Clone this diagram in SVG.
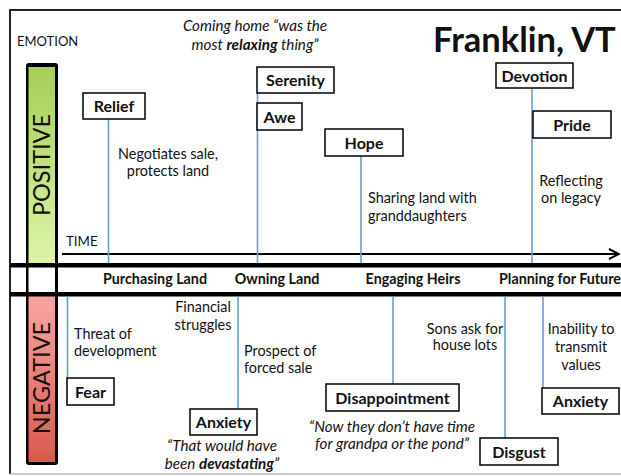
<svg xmlns="http://www.w3.org/2000/svg" width="621" height="476" viewBox="0 0 621 476">
  <defs>
    <linearGradient id="gPos" x1="0" y1="0" x2="0" y2="1">
      <stop offset="0" stop-color="#a6cf58"/>
      <stop offset="1" stop-color="#dcf4a8"/>
    </linearGradient>
    <linearGradient id="gNeg" x1="0" y1="0" x2="0" y2="1">
      <stop offset="0" stop-color="#f9a5a3"/>
      <stop offset="1" stop-color="#d9594d"/>
    </linearGradient>
    <marker id="arrow" viewBox="0 0 12 12" refX="11" refY="6" markerWidth="12" markerHeight="12" markerUnits="userSpaceOnUse" orient="auto">
      <path d="M1,1 L11,6 L1,11" fill="none" stroke="#000" stroke-width="2"/>
    </marker>
  </defs>
  <style>
    text { font-family: Lato, "Open Sans", "Liberation Sans", sans-serif; fill: #111; }
    .box { fill: #fff; stroke: #000; stroke-width: 1.5; }
    .lbl { font-size: 16px; font-weight: bold; text-anchor: middle; }
    .note { font-size: 14.4px; }
    .mid { text-anchor: middle; }
    .quote { font-size: 15.2px; font-style: italic; text-anchor: middle; }
    .stage { font-size: 14.3px; font-weight: bold; }
    .stem { stroke: #6b9fd3; stroke-width: 1.6; fill: none; }
  </style>

  <rect width="621" height="476" fill="#fff"/>

  <!-- outer frame -->
  <path d="M10,474 V10 H621" fill="none" stroke="#222" stroke-width="2"/>
  <line x1="10" y1="474" x2="621" y2="474" stroke="#bbb" stroke-width="1.5"/>

  <!-- emotion scale bar -->
  <g id="scale">
    <rect x="26" y="63" width="32" height="402" rx="3" fill="#000"/>
    <rect x="28.5" y="67" width="26.5" height="196" fill="url(#gPos)"/>
    <rect x="28.5" y="267" width="26.5" height="25" fill="#fff"/>
    <rect x="28.5" y="296" width="26.5" height="166" fill="url(#gNeg)"/>
    <text transform="translate(50,165) rotate(-90)" text-anchor="middle" font-size="23.5">POSITIVE</text>
    <text transform="translate(50,378) rotate(-90)" text-anchor="middle" font-size="23.5">NEGATIVE</text>
  </g>

  <!-- stage band -->
  <g id="stages">
    <rect x="10" y="263" width="611" height="4.5" fill="#000"/>
    <rect x="10" y="292" width="611" height="4.5" fill="#000"/>
    <text class="stage mid" x="155" y="284">Purchasing Land</text>
    <text class="stage mid" x="277" y="284">Owning Land</text>
    <text class="stage mid" x="413" y="284">Engaging Heirs</text>
    <text class="stage" x="499" y="284">Planning for Future</text>
  </g>

  <text x="17" y="46" font-size="13">EMOTION</text>
  <text x="66" y="246" font-size="13.3">TIME</text>
  <text x="433" y="52" font-size="34.5" font-weight="bold">Franklin, VT</text>

  <!-- connectors -->
  <g id="connectors">
    <line x1="62" y1="254" x2="619" y2="254" stroke="#000" stroke-width="2" marker-end="url(#arrow)"/>
    <line class="stem" x1="108.5" y1="119" x2="108.5" y2="263"/>
    <line class="stem" x1="257.5" y1="93" x2="257.5" y2="263"/>
    <line class="stem" x1="361" y1="156" x2="361" y2="263"/>
    <line class="stem" x1="532" y1="88" x2="532" y2="263"/>
    <line class="stem" x1="67.5" y1="297" x2="67.5" y2="378"/>
    <line class="stem" x1="238" y1="297" x2="238" y2="409"/>
    <line class="stem" x1="393" y1="297" x2="393" y2="384"/>
    <line class="stem" x1="505" y1="297" x2="505" y2="438"/>
    <line class="stem" x1="543" y1="297" x2="543" y2="388"/>
  </g>

  <!-- positive emotions -->
  <g id="relief">
    <rect class="box" x="83" y="93" width="62" height="26"/>
    <text class="lbl" x="114" y="112">Relief</text>
    <text class="note mid" x="168" y="159">Negotiates sale,</text>
    <text class="note mid" x="168" y="176">protects land</text>
  </g>
  <g id="serenity">
    <rect class="box" x="257" y="67" width="77" height="26"/>
    <text class="lbl" x="295.5" y="86">Serenity</text>
    <text class="quote" x="255" y="31">Coming home “was the</text>
    <text class="quote" x="255" y="50">most <tspan font-weight="bold">relaxing</tspan> thing”</text>
  </g>
  <g id="awe">
    <rect class="box" x="257" y="103" width="45" height="27"/>
    <text class="lbl" x="279.5" y="122.5">Awe</text>
  </g>
  <g id="hope">
    <rect class="box" x="325" y="129" width="78" height="27"/>
    <text class="lbl" x="364" y="148.5">Hope</text>
    <text class="note" x="368" y="203">Sharing land with</text>
    <text class="note" x="368" y="221">granddaughters</text>
  </g>
  <g id="devotion">
    <rect class="box" x="496" y="63" width="77" height="25"/>
    <text class="lbl" x="534.5" y="81.5">Devotion</text>
  </g>
  <g id="pride">
    <rect class="box" x="533" y="111" width="78" height="27"/>
    <text class="lbl" x="572" y="130.5">Pride</text>
    <text class="note mid" x="571" y="186">Reflecting</text>
    <text class="note mid" x="571" y="203">on legacy</text>
  </g>

  <!-- negative emotions -->
  <g id="fear">
    <rect class="box" x="67" y="378" width="47" height="27"/>
    <text class="lbl" x="90.5" y="397.5">Fear</text>
    <text class="note" x="74" y="339">Threat of</text>
    <text class="note" x="74" y="356">development</text>
  </g>
  <g id="anxiety-sale">
    <rect class="box" x="190" y="409" width="67" height="26"/>
    <text class="lbl" x="223.5" y="428">Anxiety</text>
    <text class="note mid" x="203" y="312">Financial</text>
    <text class="note mid" x="203" y="330">struggles</text>
    <text class="note" x="244" y="356">Prospect of</text>
    <text class="note" x="244" y="373">forced sale</text>
    <text class="quote" x="222" y="451">“That would have</text>
    <text class="quote" x="222" y="469">been <tspan font-weight="bold">devastating</tspan>”</text>
  </g>
  <g id="disappointment">
    <rect class="box" x="326" y="384" width="133" height="27"/>
    <text class="lbl" x="392.5" y="403.5">Disappointment</text>
    <text class="quote" x="392" y="432">“Now they don’t have time</text>
    <text class="quote" x="392" y="449">for grandpa or the pond”</text>
  </g>
  <g id="disgust">
    <rect class="box" x="480" y="438" width="78" height="27"/>
    <text class="lbl" x="519" y="457.5">Disgust</text>
    <text class="note mid" x="465" y="334">Sons ask for</text>
    <text class="note mid" x="465" y="350">house lots</text>
  </g>
  <g id="anxiety-values">
    <rect class="box" x="542" y="388" width="77" height="26"/>
    <text class="lbl" x="580.5" y="407">Anxiety</text>
    <text class="note mid" x="581" y="334">Inability to</text>
    <text class="note mid" x="581" y="352">transmit</text>
    <text class="note mid" x="581" y="370">values</text>
  </g>
</svg>
